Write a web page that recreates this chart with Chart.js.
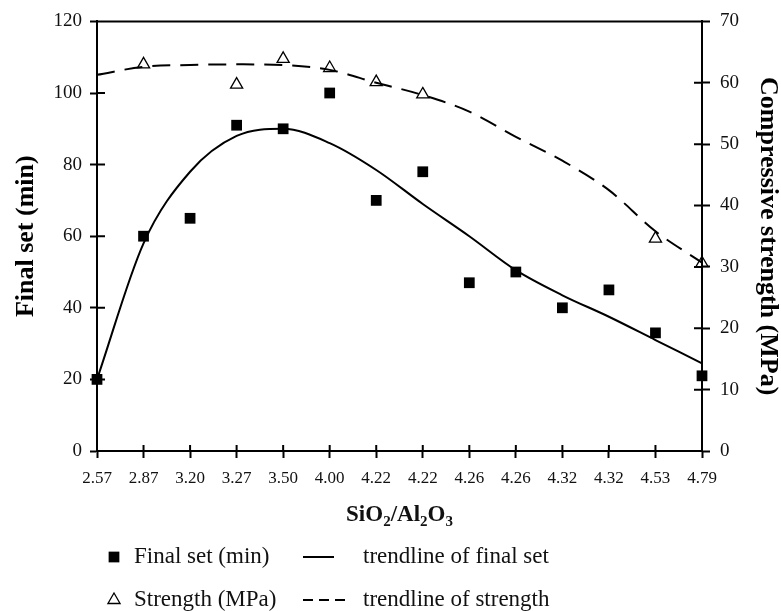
<!DOCTYPE html>
<html>
<head>
<meta charset="utf-8">
<title>Final set and strength vs SiO2/Al2O3</title>
<script src="https://cdn.jsdelivr.net/npm/chart.js@4/dist/chart.umd.min.js"></script>
<style>
  body { margin: 0; background: #fff; }
  #wrap { width: 781px; height: 611px; }
</style>
</head>
<body>
<div id="wrap"><canvas id="chart"></canvas></div>
<script>
// SiO2/Al2O3 ratio of each mix (category axis, duplicates are separate mixes)
const ratios = ["2.57", "2.87", "3.20", "3.27", "3.50", "4.00", "4.22", "4.22", "4.26", "4.26", "4.32", "4.32", "4.53", "4.79"];

// final setting time, minutes (left axis)
const finalSet = [20, 60, 65, 91, 90, 100, 70, 78, 47, 50, 40, 45, 33, 21];
const finalSetTrend = [20, 58, 78, 88, 90, 86, 78.5, 69, 60, 50.5, 43.5, 37.5, 31, 24.5];

// compressive strength, MPa (right axis), only measured for some mixes
const strength = [null, 63, null, 59.7, 63.9, 62.4, 60.1, 58.1, null, null, null, null, 34.6, 30.6];
const strengthTrend = [61.3, 62.6, 62.9, 63, 62.9, 62.1, 60, 58, 55.3, 51.2, 47.3, 42.5, 35.8, 30.7];

const finalSetTicks = [0, 20, 40, 60, 80, 100, 120];
const strengthTicks = [0, 10, 20, 30, 40, 50, 60, 70];

const SERIF = "'Liberation Serif', 'Times New Roman', serif";
const INK = "#111";

Chart.defaults.font.family = SERIF;
Chart.defaults.color = INK;

function useTicks(values) {
  return (scale) => {
    scale.ticks = values.map((v) => ({ value: v }));
  };
}

// inner half of the tick marks, the top frame line, the x title and the legend
const frameAndLegend = {
  id: "frameAndLegend",
  beforeDatasetsDraw(chart) {
    const { ctx, chartArea: a, scales } = chart;
    ctx.save();
    ctx.strokeStyle = "#000";
    ctx.lineWidth = 2;
    ctx.beginPath();
    ctx.moveTo(a.left - 1, a.top);
    ctx.lineTo(a.right + 1, a.top);
    scales.x.ticks.forEach((t, i) => {
      const px = scales.x.getPixelForTick(i);
      ctx.moveTo(px, a.bottom);
      ctx.lineTo(px, a.bottom - 6);
    });
    scales.y.ticks.forEach((t, i) => {
      const py = scales.y.getPixelForTick(i);
      ctx.moveTo(a.left, py);
      ctx.lineTo(a.left + 8, py);
    });
    scales.y1.ticks.forEach((t, i) => {
      const py = scales.y1.getPixelForTick(i);
      ctx.moveTo(a.right, py);
      ctx.lineTo(a.right - 8, py);
    });
    ctx.stroke();
    ctx.restore();
  },
  afterDraw(chart) {
    const { ctx, chartArea: a } = chart;
    ctx.save();
    ctx.fillStyle = INK;
    ctx.textBaseline = "alphabetic";

    // SiO2/Al2O3 with real subscripts
    const parts = [["SiO", 0], ["2", 1], ["/Al", 0], ["2", 1], ["O", 0], ["3", 1]];
    const big = "bold 23px " + SERIF;
    const small = "bold 15px " + SERIF;
    let total = 0;
    parts.forEach(([s, sub]) => {
      ctx.font = sub ? small : big;
      total += ctx.measureText(s).width;
    });
    let tx = (a.left + a.right) / 2 - total / 2;
    const ty = 521;
    parts.forEach(([s, sub]) => {
      ctx.font = sub ? small : big;
      ctx.fillText(s, tx, sub ? ty + 5 : ty);
      tx += ctx.measureText(s).width;
    });

    // legend, two rows of marker + label and line + label
    const rows = [
      { y: 557, point: 0, line: 1 },
      { y: 600, point: 2, line: 3 },
    ];
    ctx.font = "23px " + SERIF;
    ctx.textBaseline = "middle";
    rows.forEach((r) => {
      const pd = chart.data.datasets[r.point];
      ctx.fillStyle = pd.pointBackgroundColor;
      ctx.strokeStyle = pd.pointBorderColor;
      ctx.lineWidth = pd.pointBorderWidth;
      Chart.helpers.drawPoint(ctx, {
        pointStyle: pd.pointStyle,
        radius: pd.pointRadius,
        borderWidth: pd.pointBorderWidth,
      }, 114, r.y);
      ctx.fillStyle = INK;
      ctx.fillText(pd.label, 134, r.y);

      const ld = chart.data.datasets[r.line];
      ctx.save();
      ctx.strokeStyle = ld.borderColor;
      ctx.lineWidth = ld.borderWidth;
      ctx.setLineDash(ld.borderDash ? [10, 6] : []);
      ctx.beginPath();
      ctx.moveTo(303, r.y);
      ctx.lineTo(ld.borderDash ? 345 : 334, r.y);
      ctx.stroke();
      ctx.restore();
      ctx.fillText(ld.label, 363, r.y);
    });
    ctx.restore();
  },
};

new Chart(document.getElementById("chart"), {
  type: "line",
  data: {
    labels: ratios,
    datasets: [
      {
        label: "Final set (min)",
        data: finalSet,
        yAxisID: "y",
        showLine: false,
        pointStyle: "rect",
        pointRadius: 7.6,
        pointHoverRadius: 7.6,
        pointBackgroundColor: "#000",
        pointBorderColor: "#000",
        pointBorderWidth: 0,
        clip: false,
      },
      {
        label: "trendline of final set",
        data: finalSetTrend,
        yAxisID: "y",
        borderColor: "#000",
        borderWidth: 2,
        pointRadius: 0,
        cubicInterpolationMode: "monotone",
        fill: false,
      },
      {
        label: "Strength (MPa)",
        data: strength,
        yAxisID: "y1",
        showLine: false,
        pointStyle: "triangle",
        pointRadius: 7,
        pointHoverRadius: 7,
        pointBackgroundColor: "rgba(255,255,255,0)",
        pointBorderColor: "#000",
        pointBorderWidth: 1.3,
        clip: false,
      },
      {
        label: "trendline of strength",
        data: strengthTrend,
        yAxisID: "y1",
        borderColor: "#000",
        borderWidth: 2,
        borderDash: [18, 10],
        pointRadius: 0,
        cubicInterpolationMode: "monotone",
        fill: false,
        spanGaps: true,
      },
    ],
  },
  options: {
    responsive: true,
    maintainAspectRatio: false,
    animation: false,
    layout: { padding: { top: 16, left: 0, right: 0, bottom: 0 } },
    plugins: {
      legend: { display: false },
      tooltip: { enabled: false },
    },
    scales: {
      x: {
        offset: false,
        grid: { drawOnChartArea: false, tickLength: 7, tickWidth: 2, tickColor: "#000" },
        border: { display: true, color: "#000", width: 2 },
        ticks: { font: { size: 17 }, padding: 10, maxRotation: 0, autoSkip: false },
        afterFit: (scale) => { scale.height = 160; },
      },
      y: {
        position: "left",
        min: 0,
        max: 120,
        afterBuildTicks: useTicks(finalSetTicks),
        grid: { drawOnChartArea: false, tickLength: 7, tickWidth: 2, tickColor: "#000" },
        border: { display: true, color: "#000", width: 2 },
        ticks: { font: { size: 19 }, padding: 8 },
        title: {
          display: true,
          text: "Final set (min)",
          font: { size: 26, weight: "bold", lineHeight: 1 },
          padding: { top: 13, bottom: 0 },
          color: "#000",
        },
        afterFit: (scale) => { scale.width = 97; },
      },
      y1: {
        position: "right",
        min: 0,
        max: 70,
        afterBuildTicks: useTicks(strengthTicks),
        grid: { drawOnChartArea: false, tickLength: 8, tickWidth: 2, tickColor: "#000" },
        border: { display: true, color: "#000", width: 2 },
        ticks: { font: { size: 19 }, padding: 10 },
        title: {
          display: true,
          text: "Compressive strength (MPa)",
          font: { size: 26, weight: "bold", lineHeight: 1 },
          padding: { top: 0, bottom: 0 },
          color: "#000",
        },
        afterFit: (scale) => { scale.width = 79; },
      },
    },
  },
  plugins: [frameAndLegend],
});
</script>
</body>
</html>
